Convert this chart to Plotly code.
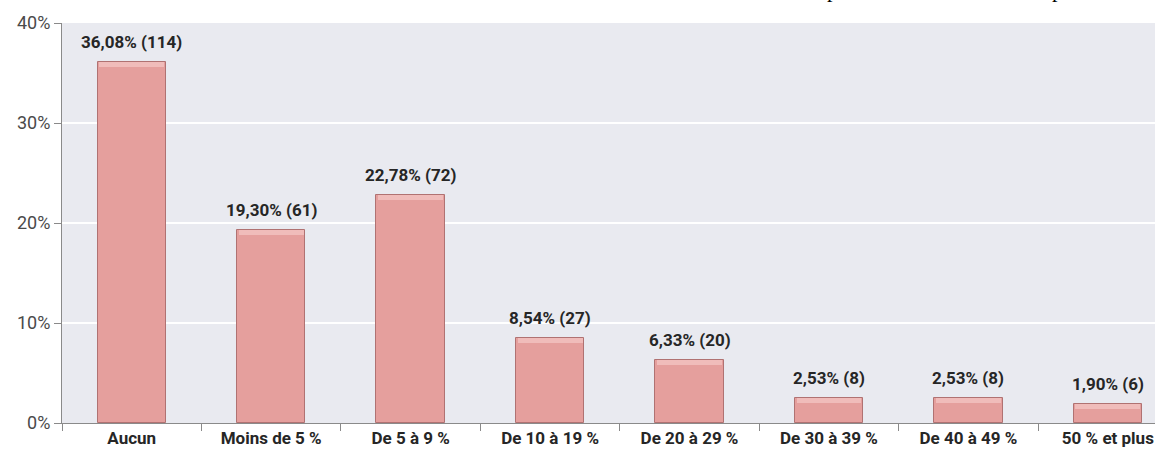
import plotly.graph_objects as go

# Share of respondents by category
categories = ["Aucun", "Moins de 5 %", "De 5 à 9 %", "De 10 à 19 %", "De 20 à 29 %",
              "De 30 à 39 %", "De 40 à 49 %", "50 % et plus"]
percent = [36.08, 19.30, 22.78, 8.54, 6.33, 2.53, 2.53, 1.90]
counts = [114, 61, 72, 27, 20, 8, 8, 6]
y_ticks = [0, 10, 20, 30, 40]
y_tick_labels = ["0%", "10%", "20%", "30%", "40%"]

FONT = "Roboto, sans-serif"
BAR_W = 0.49
BEVEL = 0.5

labels = [f"{p:.2f}".replace(".", ",") + f"% ({c})" for p, c in zip(percent, counts)]

fig = go.Figure()

# main bars
fig.add_trace(go.Bar(
    x=categories, y=percent, width=BAR_W,
    marker=dict(color="#E59F9D", line=dict(color="#B07272", width=1)),
    hoverinfo="skip",
))
# lighter bevel band along the top of each bar
fig.add_trace(go.Bar(
    x=categories, y=[BEVEL] * len(percent), base=[p - BEVEL for p in percent],
    width=BAR_W - 0.025,
    marker=dict(color="#F0BCBA", line=dict(width=0)),
    hoverinfo="skip",
))

for cat, p, lab in zip(categories, percent, labels):
    fig.add_annotation(
        x=cat, y=p, text=f"<b>{lab}</b>", showarrow=False,
        xref="x", yref="y", yanchor="bottom", yshift=8,
        font=dict(family=FONT, size=17, color="#262626"),
    )

# fragments of the running text above the chart
for xp in [0.711, 0.9165]:
    fig.add_annotation(
        x=xp, y=1.0, xref="paper", yref="paper", text="p", showarrow=False,
        yanchor="bottom", yshift=20, borderpad=0,
        font=dict(family="Liberation Serif, serif", size=22, color="#000000"),
    )

cat_px = 139.45
plot_w = 1155 - 62
fig.update_layout(
    width=1155, height=460,
    margin=dict(l=62, r=0, t=23, b=37, pad=0),
    paper_bgcolor="white", plot_bgcolor="#E9EAF0",
    barmode="overlay", showlegend=False, bargap=0,
    font=dict(family=FONT),
    xaxis=dict(
        range=[-0.5, -0.5 + plot_w / cat_px],
        tickson="boundaries", ticks="outside", ticklen=7, tickcolor="#8A8A8A",
        showline=True, linecolor="#8A8A8A", linewidth=1,
        showgrid=False, zeroline=False,
        tickfont=dict(family=FONT, size=17, color="#262626", weight="bold"),
    ),
    yaxis=dict(
        range=[0, 40], tickvals=y_ticks, ticktext=y_tick_labels,
        ticks="outside", ticklen=7, tickcolor="#8A8A8A",
        showline=True, linecolor="#8A8A8A", linewidth=1,
        showgrid=True, gridcolor="#FFFFFF", gridwidth=1.5, zeroline=False,
        tickfont=dict(family=FONT, size=18, color="#4A4A4A"),
    ),
)

fig.write_html("out.html")
